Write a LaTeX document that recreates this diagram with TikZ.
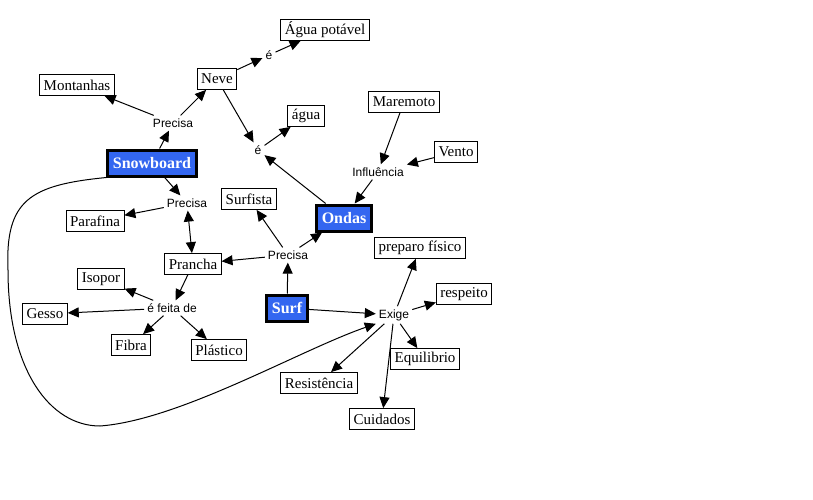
\documentclass[tikz,border=0pt]{standalone}
\usepackage{fontspec}
\setmainfont{Liberation Serif}
\setsansfont{Liberation Sans}
\usetikzlibrary{arrows.meta}
\definecolor{cblue}{RGB}{51,102,240}
\begin{document}
\begin{tikzpicture}[x=1pt,y=-1pt,
  concept/.style={draw, line width=0.8pt, fill=white, font=\fontsize{15}{18}\selectfont, inner xsep=4pt, inner ysep=2pt, minimum height=21pt},
  mainc/.style={draw, line width=3pt, fill=cblue, text=white, font=\fontsize{16}{19}\selectfont\bfseries, inner xsep=5pt, minimum height=26pt},
  link/.style={font=\sffamily\fontsize{12}{14}\selectfont, inner sep=3pt},
  arr/.style={-{Triangle[length=11pt,width=10pt]}, line width=1pt},
  darr/.style={{Triangle[length=11pt,width=10pt]}-{Triangle[length=11pt,width=10pt]}, line width=1pt}]
\useasboundingbox[fill=white] (0,0) rectangle (813,500);

% concepts
\node[concept] (agp) at (325,30) {Água potável};
\node[concept] (neve) at (217,79) {Neve};
\node[concept] (mont) at (77,85) {Montanhas};
\node[concept] (agua) at (306,116) {água};
\node[concept] (mare) at (404,102) {Maremoto};
\node[concept] (vento) at (456,152) {Vento};
\node[mainc] (snow) at (152,163) {Snowboard};
\node[mainc] (ondas) at (344,218) {Ondas};
\node[concept] (surfista) at (249,199) {Surfista};
\node[concept] (paraf) at (95,221) {Parafina};
\node[concept] (pranc) at (193,264) {Prancha};
\node[concept] (prep) at (420,248) {preparo físico};
\node[concept] (isop) at (101,279) {Isopor};
\node[mainc] (surf) at (287,308) {Surf};
\node[concept] (gesso) at (45,314) {Gesso};
\node[concept] (resp) at (464,294) {respeito};
\node[concept] (fibra) at (131,345) {Fibra};
\node[concept] (plast) at (219,350) {Plástico};
\node[concept] (equil) at (425,359) {Equilibrio};
\node[concept] (resist) at (319,383) {Resistência};
\node[concept] (cuid) at (382,419) {Cuidados};

% linking phrases
\node[link] (e1) at (269,55) {é};
\node[link] (pre1) at (173,123) {Precisa};
\node[link] (e2) at (258,150) {é};
\node[link] (infl) at (378,172) {Influência};
\node[link] (pre2) at (187,203) {Precisa};
\node[link] (pre3) at (288,255) {Precisa};
\node[link] (feita) at (172,308) {é feita de};
\node[link] (exige) at (394,315) {Exige};

% connectors
\draw[arr] (neve) -- (e1);
\draw[arr] (e1) -- (agp);
\draw[arr] (snow) -- (pre1);
\draw[arr] (pre1) -- (mont);
\draw[arr] (pre1) -- (neve);
\draw[arr] (neve) -- (e2);
\draw[arr] (e2) -- (agua);
\draw[arr] (ondas) -- (e2);
\draw[arr] (mare) -- (infl);
\draw[arr] (vento) -- (infl);
\draw[arr] (infl) -- (ondas);
\draw[arr] (snow) -- (pre2);
\draw[arr] (pre2) -- (paraf);
\draw[darr] (pre2) -- (pranc);
\draw[arr] (surf) -- (pre3);
\draw[arr] (pre3) -- (ondas);
\draw[arr] (pre3) -- (surfista);
\draw[arr] (pre3) -- (pranc);
\draw[arr] (pranc) -- (feita);
\draw[arr] (feita) -- (isop);
\draw[arr] (feita) -- (gesso);
\draw[arr] (feita) -- (fibra);
\draw[arr] (feita) -- (plast);
\draw[arr] (surf) -- (exige);
\draw[arr] (exige) -- (prep);
\draw[arr] (exige) -- (resp);
\draw[arr] (exige) -- (equil);
\draw[arr] (exige) -- (resist);
\draw[arr] (exige) -- (cuid);
\draw[arr] (snow.south west) .. controls (30,185) and (5,200) .. (8,270)
   .. controls (8,370) and (50,426) .. (100,426)
   .. controls (180,420) and (300,350) .. (exige.south west);
\end{tikzpicture}
\end{document}
